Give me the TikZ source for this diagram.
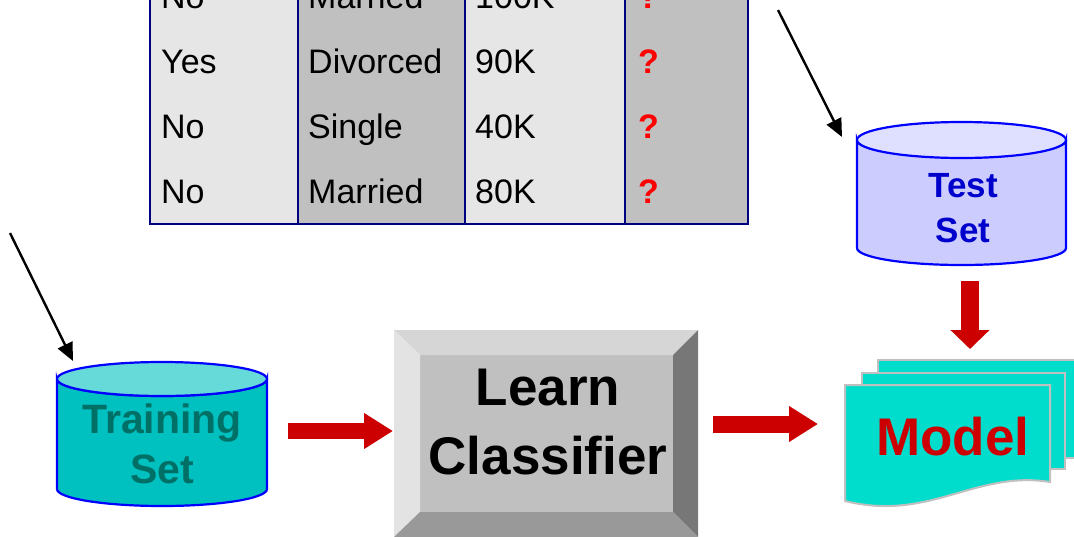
\documentclass[tikz,border=0pt]{standalone}
\usepackage{fontspec}
\setmainfont{Liberation Sans}
\usetikzlibrary{arrows.meta}
\definecolor{tlight}{HTML}{E6E6E6}
\definecolor{tdark}{HTML}{C0C0C0}
\definecolor{tnavy}{HTML}{000080}
\definecolor{cylblue}{HTML}{0000FF}
\definecolor{trbody}{HTML}{00C0C0}
\definecolor{trtop}{HTML}{66D9D9}
\definecolor{trtext}{HTML}{007066}
\definecolor{tsbody}{HTML}{CCCCFF}
\definecolor{tstop}{HTML}{DFDFFF}
\definecolor{tstext}{HTML}{0000CC}
\definecolor{modfill}{HTML}{00DDCC}
\definecolor{modedge}{HTML}{C0C0C0}
\definecolor{darkred}{HTML}{CC0000}
\definecolor{bvface}{HTML}{C0C0C0}
\definecolor{bvtop}{HTML}{D6D6D6}
\definecolor{bvleft}{HTML}{E3E3E3}
\definecolor{bvright}{HTML}{777777}
\definecolor{bvbottom}{HTML}{999999}
\tikzset{
  cell/.style={anchor=base west, inner sep=0pt, font=\fontsize{34}{40}\selectfont},
  qmark/.style={cell, text=red, font=\bfseries\fontsize{34}{40}\selectfont},
  cylline/.style={draw=cylblue, line width=2.2pt},
  blackarrow/.style={draw=black, line width=2.4pt, -{Triangle[length=18pt,width=16pt]}},
  redarrow/.style={draw=darkred, line width=#1, -{Triangle[length=29pt,width=34pt]}},
  bigtext/.style={inner sep=0pt, align=center}
}
\begin{document}
\begin{tikzpicture}[x=1pt,y=-1pt]
\useasboundingbox (0,0) rectangle (1074,536);
\clip (0,0) rectangle (1074,536);

% ---------- table ----------
\fill[tlight] (150,-60) rectangle (298,224);
\fill[tdark]  (298,-60) rectangle (465,224);
\fill[tlight] (465,-60) rectangle (625,224);
\fill[tdark]  (625,-60) rectangle (748,224);
\draw[tnavy, line width=2pt] (150,-60) rectangle (748,224);
\draw[tnavy, line width=2pt] (298,-60) -- (298,224);
\draw[tnavy, line width=2pt] (465,-60) -- (465,224);
\draw[tnavy, line width=2pt] (625,-60) -- (625,224);

\node[cell] (r1c1) at (161,8) {No};
\node[cell] (r1c2) at (308,8) {Married};
\node[cell] (r1c3) at (475,8) {100K};
\node[qmark] (r1c4) at (638,8) {?};
\node[cell] (r2c1) at (161,73) {Yes};
\node[cell] (r2c2) at (308,73) {Divorced};
\node[cell] (r2c3) at (475,73) {90K};
\node[qmark] (r2c4) at (638,73) {?};
\node[cell] (r3c1) at (161,138) {No};
\node[cell] (r3c2) at (308,138) {Single};
\node[cell] (r3c3) at (475,138) {40K};
\node[qmark] (r3c4) at (638,138) {?};
\node[cell] (r4c1) at (161,203) {No};
\node[cell] (r4c2) at (308,203) {Married};
\node[cell] (r4c3) at (475,203) {80K};
\node[qmark] (r4c4) at (638,203) {?};

% ---------- training set cylinder ----------
\path[cylline, fill=trbody] (57,379) -- (57,489)
  arc[start angle=180, end angle=0, x radius=105, y radius=17]
  -- (267,379) arc[start angle=0, end angle=180, x radius=105, y radius=17] -- cycle;
\path[cylline, fill=trtop] (162,379) ellipse[x radius=105, y radius=17];
\node[bigtext, text=trtext, font=\bfseries\fontsize{41}{50}\selectfont] (train) at (162,444) {Training\\Set};

% ---------- test set cylinder ----------
\path[cylline, fill=tsbody] (857,140) -- (857,248)
  arc[start angle=180, end angle=0, x radius=104.5, y radius=17]
  -- (1066,140) arc[start angle=0, end angle=180, x radius=104.5, y radius=17] -- cycle;
\path[cylline, fill=tstop] (961.5,140) ellipse[x radius=104.5, y radius=18];
\node[bigtext, text=tstext, font=\bfseries\fontsize{35}{45}\selectfont] (test) at (963,208) {Test\\Set};

% ---------- learn classifier bevel box ----------
\fill[bvface] (420,355) rectangle (673,512);
\fill[bvtop] (394,330) -- (698,330) -- (673,355) -- (420,355) -- cycle;
\fill[bvleft] (394,330) -- (420,355) -- (420,512) -- (394,537) -- cycle;
\fill[bvright] (698,330) -- (698,537) -- (673,512) -- (673,355) -- cycle;
\fill[bvbottom] (394,537) -- (420,512) -- (673,512) -- (698,537) -- cycle;
\node[bigtext, text=black, font=\bfseries\fontsize{53}{69}\selectfont] (learn) at (548,422) {Learn\\Classifier};

% ---------- model document stack ----------
\draw[modedge, line width=2pt, fill=modfill] (878,360) rectangle (1090,458);
\draw[modedge, line width=2pt, fill=modfill] (862,373) rectangle (1065,469);
\draw[modedge, line width=2pt, fill=modfill] (845,385) -- (1050,385) -- (1050,482)
  .. controls (975,470) and (930,522) .. (845,501) -- cycle;
\node[bigtext, text=darkred, font=\bfseries\fontsize{53}{60}\selectfont] (model) at (953,437) {Model};

% ---------- connectors ----------
\coordinate (trainsrc) at (10,233);
\coordinate (traintip) at (73,361);
\draw[blackarrow] (trainsrc) -- (traintip);
\coordinate (testsrc) at (778,10);
\coordinate (testtip) at (842,137);
\draw[blackarrow] (testsrc) -- (testtip);

\coordinate (trainout) at (288,431);
\coordinate (learnin) at (393,431);
\draw[redarrow=16pt] (trainout) -- (learnin);
\coordinate (learnout) at (713,424);
\coordinate (modelin) at (818,424);
\draw[redarrow=17pt] (learnout) -- (modelin);
\coordinate (testout) at (970,281);
\coordinate (modeltop) at (970,349);
\draw[draw=darkred, line width=18pt, -{Triangle[length=19pt,width=38pt]}] (testout) -- (modeltop);
\end{tikzpicture}
\end{document}
